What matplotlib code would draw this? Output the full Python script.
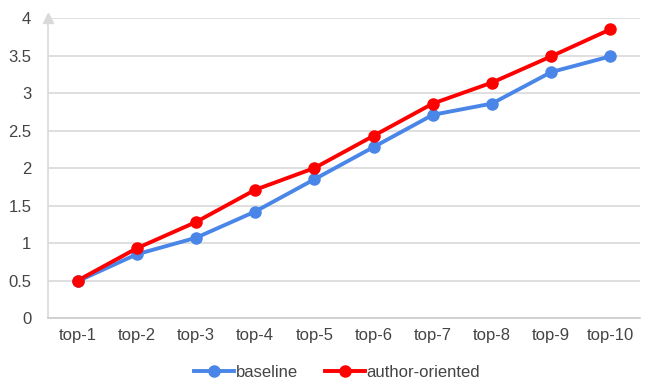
import matplotlib.pyplot as plt
import numpy as np

plt.rcParams['font.family'] = ['Liberation Sans', 'DejaVu Sans']

labels = ['top-1', 'top-2', 'top-3', 'top-4', 'top-5', 'top-6', 'top-7', 'top-8', 'top-9', 'top-10']
baseline = [0.49, 0.85, 1.07, 1.42, 1.85, 2.28, 2.71, 2.86, 3.28, 3.49]
author = [0.50, 0.93, 1.28, 1.71, 2.00, 2.43, 2.86, 3.14, 3.49, 3.85]

fig = plt.figure(figsize=(6.46, 3.85), dpi=100)
ax = fig.add_axes([0.0743, 0.174, 0.9164, 0.779])

x = np.arange(len(labels))
ax.plot(x, baseline, color='#4a86e8', lw=2.8, marker='o', ms=8, label='baseline', zorder=3)
ax.plot(x, author, color='#ff0000', lw=2.8, marker='o', ms=8, label='author-oriented', zorder=4)

ax.set_xlim(-0.5, len(labels) - 0.5)
ax.set_ylim(0, 4)
ax.set_yticks(np.arange(0, 4.01, 0.5))
ax.set_yticklabels(['0', '0.5', '1', '1.5', '2', '2.5', '3', '3.5', '4'])
ax.set_xticks(x)
ax.set_xticklabels(labels)
ax.grid(axis='y', color='#d9d9d9', lw=1.2)
ax.set_axisbelow(True)
for s in ['top', 'right']:
    ax.spines[s].set_visible(False)
ax.spines['left'].set_color('#d9d9d9')
ax.spines['left'].set_linewidth(1.2)
ax.spines['bottom'].set_color('#cccccc')
ax.spines['bottom'].set_linewidth(1.2)
ax.tick_params(length=0, labelsize=12, colors='#444444')
ax.tick_params(axis='x', pad=7)
ax.tick_params(axis='y', pad=12)
ax.plot(-0.5, 4, marker='^', color='#d9d9d9', ms=7, clip_on=False, zorder=2)

fig.legend(loc='center', bbox_to_anchor=(0.522, 0.033), ncol=2, frameon=False,
           fontsize=12, labelcolor='#444444', handlelength=2.4, handletextpad=0.1,
           columnspacing=1.6)

fig.savefig('out.png', dpi=100)
